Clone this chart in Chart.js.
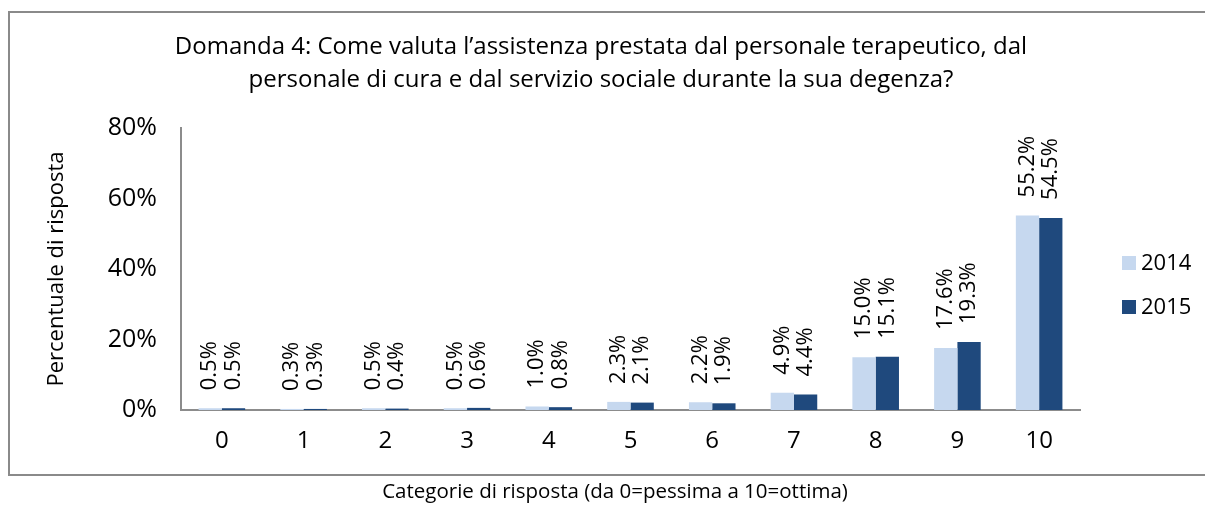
<!DOCTYPE html>
<html>
<head>
<meta charset="utf-8">
<script src="https://cdn.jsdelivr.net/npm/chart.js@4.4.1/dist/chart.umd.min.js"></script>
<style>
  html, body { margin: 0; padding: 0; background: #fff; }
  #wrap { width: 1205px; height: 505px; }
</style>
</head>
<body>
<div id="wrap"><canvas id="chart" width="1205" height="505"></canvas></div>
<script>
// Response categories (0 = worst, 10 = best)
const CATEGORIES = ["0", "1", "2", "3", "4", "5", "6", "7", "8", "9", "10"];

// Percent of answers per year
const VALUES_2014 = [0.5, 0.3, 0.5, 0.5, 1.0, 2.3, 2.2, 4.9, 15.0, 17.6, 55.2];
const VALUES_2015 = [0.5, 0.3, 0.4, 0.6, 0.8, 2.1, 1.9, 4.4, 15.1, 19.3, 54.5];

const SERIES_LABELS = ["2014", "2015"];
const Y_TICKS = [0, 20, 40, 60, 80];

const TITLE_LINES = [
  "Domanda 4: Come valuta l\u2019assistenza prestata dal personale terapeutico, dal",
  "personale di cura e dal servizio sociale durante la sua degenza?",
];
const X_TITLE = "Categorie di risposta (da 0=pessima a 10=ottima)";
const Y_TITLE = "Percentuale di risposta";

const COLORS = ["#C6D8EF", "#1F497D"];
const FONT = "'Open Sans', 'Noto Sans', sans-serif";

// Frame, title, legend, x-axis title and value labels
const decorPlugin = {
  id: "decor",
  afterDraw(chart) {
    const ctx = chart.ctx;
    ctx.save();

    // outer frame
    ctx.strokeStyle = "#8a8a8a";
    ctx.lineWidth = 2;
    ctx.strokeRect(9, 12, 1210, 463);

    ctx.fillStyle = "#000";

    // title
    ctx.font = "24px " + FONT;
    ctx.textAlign = "center";
    ctx.textBaseline = "middle";
    ctx.fillText(TITLE_LINES[0], 601, 47);
    ctx.fillText(TITLE_LINES[1], 601, 80);

    // x axis title (outside frame)
    ctx.font = "20.5px " + FONT;
    ctx.fillText(X_TITLE, 615, 492);

    // legend
    ctx.font = "22px " + FONT;
    ctx.textAlign = "left";
    chart.data.datasets.forEach((ds, i) => {
      const y = 263 + i * 44;
      ctx.fillStyle = ds.backgroundColor;
      ctx.fillRect(1122, y - 7, 14, 14);
      ctx.fillStyle = "#000";
      ctx.fillText(ds.label, 1141, y + 1);
    });

    // rotated value labels
    ctx.font = "22px " + FONT;
    ctx.textAlign = "left";
    ctx.textBaseline = "middle";
    chart.data.datasets.forEach((ds, i) => {
      const meta = chart.getDatasetMeta(i);
      meta.data.forEach((bar, j) => {
        ctx.save();
        ctx.translate(bar.x, bar.y - 18);
        ctx.rotate(-Math.PI / 2);
        ctx.fillText(ds.data[j].toFixed(1) + "%", 0, 0);
        ctx.restore();
      });
    });

    ctx.restore();
  },
};

document.addEventListener("DOMContentLoaded", () => {
  const canvas = document.getElementById("chart");

  new Chart(canvas, {
    type: "bar",
    data: {
      labels: CATEGORIES,
      datasets: [
        {
          label: SERIES_LABELS[0],
          data: VALUES_2014,
          backgroundColor: COLORS[0],
          categoryPercentage: 0.57,
          barPercentage: 1.0,
        },
        {
          label: SERIES_LABELS[1],
          data: VALUES_2015,
          backgroundColor: COLORS[1],
          categoryPercentage: 0.57,
          barPercentage: 1.0,
        },
      ],
    },
    options: {
      responsive: false,
      animation: false,
      layout: {
        padding: { left: 9, top: 128, right: 125, bottom: 0 },
      },
      plugins: {
        legend: { display: false },
        title: { display: false },
        tooltip: { enabled: false },
      },
      scales: {
        x: {
          grid: { display: false, drawTicks: false },
          border: { display: true, color: "#8c8c8c", width: 2 },
          ticks: {
            color: "#000",
            font: { family: FONT, size: 24 },
            padding: 17,
            maxRotation: 0,
          },
          afterFit(scale) {
            scale.height = 95;
          },
        },
        y: {
          min: 0,
          max: 80,
          grid: { display: false, drawTicks: false },
          border: { display: true, color: "#8c8c8c", width: 2 },
          afterBuildTicks(scale) {
            scale.ticks = Y_TICKS.map((v) => ({ value: v }));
          },
          ticks: {
            color: "#000",
            font: { family: FONT, size: 25 },
            padding: 24,
            callback: (v) => v + "%",
          },
          title: {
            display: true,
            text: Y_TITLE,
            color: "#000",
            font: { family: FONT, size: 22 },
            padding: { top: 35, bottom: 0 },
          },
          afterFit(scale) {
            scale.width = 172;
          },
        },
      },
    },
    plugins: [decorPlugin],
  });
});
</script>
</body>
</html>
